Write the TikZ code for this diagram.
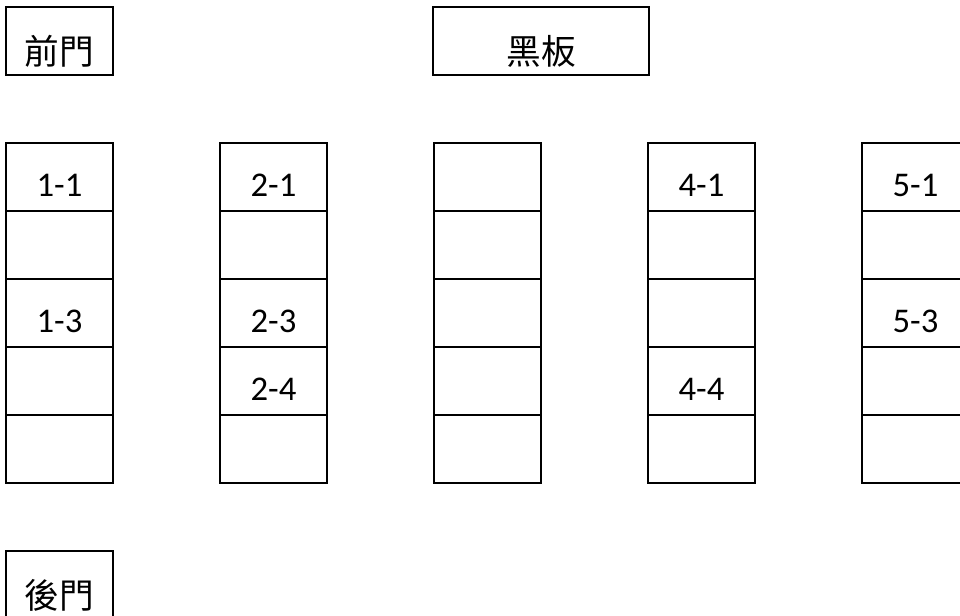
\documentclass[tikz,border=0pt]{standalone}
\usepackage{fontspec}
\setmainfont{Carlito}
\newfontfamily\cjk{Noto Sans CJK TC}
\begin{document}
\begin{tikzpicture}[x=0.75pt,y=-0.75pt,
  seat/.style={rectangle,draw,line width=1.5pt,minimum width=80pt,minimum height=51pt,inner sep=0pt},
  seatnum/.style={inner sep=0pt,text height=30pt,text depth=0pt,font=\fontsize{26}{30}\selectfont},
  sign/.style={seat,text height=35.2pt,text depth=0pt,font=\cjk\fontsize{26}{30}\selectfont}]
  \useasboundingbox (0,0) rectangle (960,616);
  \node[sign] (front) at (59.5,41) {前門};
  \node[sign,minimum width=162pt] (board) at (541,41) {黑板};
  \node[sign] (back) at (59.5,585) {後門};
  \foreach \c in {1,...,5}
    \foreach \r in {1,...,5}
      \node[seat] (s\c\r) at ({59.5+214*(\c-1)},{177+68*(\r-1)}) {};
  \foreach \c/\r in {1/1,1/3,2/1,2/3,2/4,4/1,4/4,5/1,5/3}
    \node[seatnum] (n\c\r) at (s\c\r) {\c-\r};
\end{tikzpicture}
\end{document}
